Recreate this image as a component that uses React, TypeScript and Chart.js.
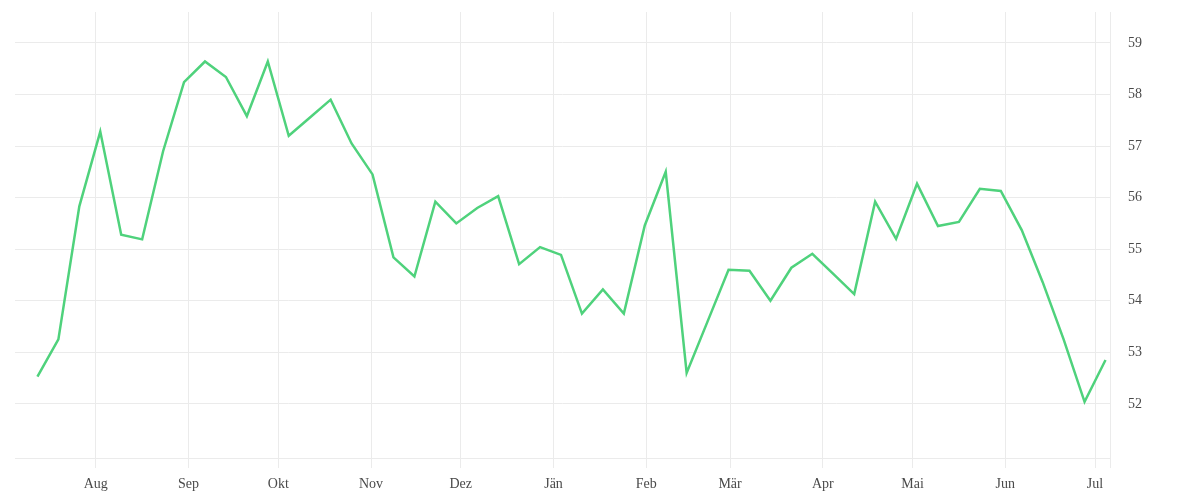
import React, { useEffect, useRef } from "react";
import { Chart, registerables } from "chart.js";

Chart.register(...registerables);

const dates: string[] = [
  "2018-07-12", "2018-07-19", "2018-07-26",
  "2018-08-02", "2018-08-09", "2018-08-16", "2018-08-23", "2018-08-30",
  "2018-09-06", "2018-09-13", "2018-09-20", "2018-09-27",
  "2018-10-04", "2018-10-11", "2018-10-18", "2018-10-25",
  "2018-11-01", "2018-11-08", "2018-11-15", "2018-11-22", "2018-11-29",
  "2018-12-06", "2018-12-13", "2018-12-20", "2018-12-27",
  "2019-01-03", "2019-01-10", "2019-01-17", "2019-01-24", "2019-01-31",
  "2019-02-07", "2019-02-14", "2019-02-21", "2019-02-28",
  "2019-03-07", "2019-03-14", "2019-03-21", "2019-03-28",
  "2019-04-04", "2019-04-11", "2019-04-18", "2019-04-25",
  "2019-05-02", "2019-05-09", "2019-05-16", "2019-05-23", "2019-05-30",
  "2019-06-06", "2019-06-13", "2019-06-20", "2019-06-27",
  "2019-07-04",
];

const values: number[] = [
  52.53, 53.25, 55.83,
  57.28, 55.28, 55.19, 56.9, 58.24,
  58.64, 58.34, 57.58, 58.64,
  57.2, 57.55, 57.9, 57.05,
  56.45, 54.84, 54.47, 55.92, 55.5,
  55.8, 56.03, 54.71, 55.04,
  54.89, 53.75, 54.22, 53.75, 55.46,
  56.5, 52.6, 53.6, 54.6,
  54.58, 54.0, 54.64, 54.91,
  54.52, 54.13, 55.92, 55.2,
  56.27, 55.45, 55.53, 56.17, 56.13,
  55.37, 54.36, 53.25, 52.04,
  52.85,
];

const monthStarts: string[] = [
  "2018-08-01", "2018-09-01", "2018-10-01", "2018-11-01", "2018-12-01",
  "2019-01-01", "2019-02-01", "2019-03-01", "2019-04-01", "2019-05-01",
  "2019-06-01", "2019-07-01",
];
const monthLabels: string[] = [
  "Aug", "Sep", "Okt", "Nov", "Dez", "Jän", "Feb", "Mär", "Apr", "Mai", "Jun", "Jul",
];

const yTicks: number[] = [52, 53, 54, 55, 56, 57, 58, 59];

const X_MIN = "2018-07-05";
const X_MAX = "2019-07-06";
const Y_MIN = 50.95;
const Y_MAX = 59.6;

const toMs = (d: string, hour = 0) =>
  new Date(d + "T" + String(hour).padStart(2, "0") + ":00:00Z").getTime();

export default function App() {
  const ref = useRef<HTMLCanvasElement | null>(null);

  useEffect(() => {
    if (!ref.current) return;
    const xMin = toMs(X_MIN);
    const xMax = toMs(X_MAX);
    const points = dates.map((d, i) => ({ x: toMs(d, 12), y: values[i] }));
    const tickPositions = monthStarts.map((d) => toMs(d)).concat([xMax]);
    const gridColor = "#ebebeb";
    const font = { family: "'Liberation Serif', serif", size: 14 };

    const chart = new Chart(ref.current, {
      type: "line",
      data: {
        datasets: [
          {
            data: points,
            borderColor: "#4fd27c",
            borderWidth: 2.5,
            pointRadius: 0,
            pointHoverRadius: 0,
            tension: 0,
            fill: false,
          },
        ],
      },
      options: {
        animation: false,
        responsive: true,
        maintainAspectRatio: false,
        layout: { padding: { left: 15, top: 12, right: 0, bottom: 0 } },
        plugins: {
          legend: { display: false },
          tooltip: { enabled: false },
        },
        scales: {
          x: {
            type: "linear",
            min: xMin,
            max: xMax,
            afterBuildTicks: (scale: any) => {
              scale.ticks = tickPositions.map((v) => ({ value: v }));
            },
            afterFit: (scale: any) => {
              scale.height = 42;
              scale.paddingLeft = 0;
              scale.paddingRight = 0;
            },
            grid: {
              color: gridColor,
              lineWidth: 1,
              drawTicks: true,
              tickLength: 10,
            },
            border: { display: true, color: gridColor, width: 1 },
            ticks: {
              autoSkip: false,
              maxRotation: 0,
              padding: 8,
              color: "#4a4a4a",
              font,
              callback: (_v: any, i: number) => monthLabels[i] ?? "",
            },
          },
          y: {
            type: "linear",
            position: "right",
            min: Y_MIN,
            max: Y_MAX,
            afterBuildTicks: (scale: any) => {
              scale.ticks = yTicks.map((v) => ({ value: v }));
            },
            afterFit: (scale: any) => {
              scale.width = 90;
              scale.paddingTop = 0;
              scale.paddingBottom = 0;
            },
            grid: { color: gridColor, lineWidth: 1, drawTicks: false },
            border: { display: false },
            ticks: {
              padding: 18,
              color: "#4a4a4a",
              font,
              callback: (v: any) => String(v),
            },
          },
        },
      },
    } as any);

    return () => chart.destroy();
  }, []);

  return (
    <div style={{ position: "fixed", left: 0, top: 0, width: 1200, height: 500, background: "#fff" }}>
      <canvas ref={ref} />
    </div>
  );
}
